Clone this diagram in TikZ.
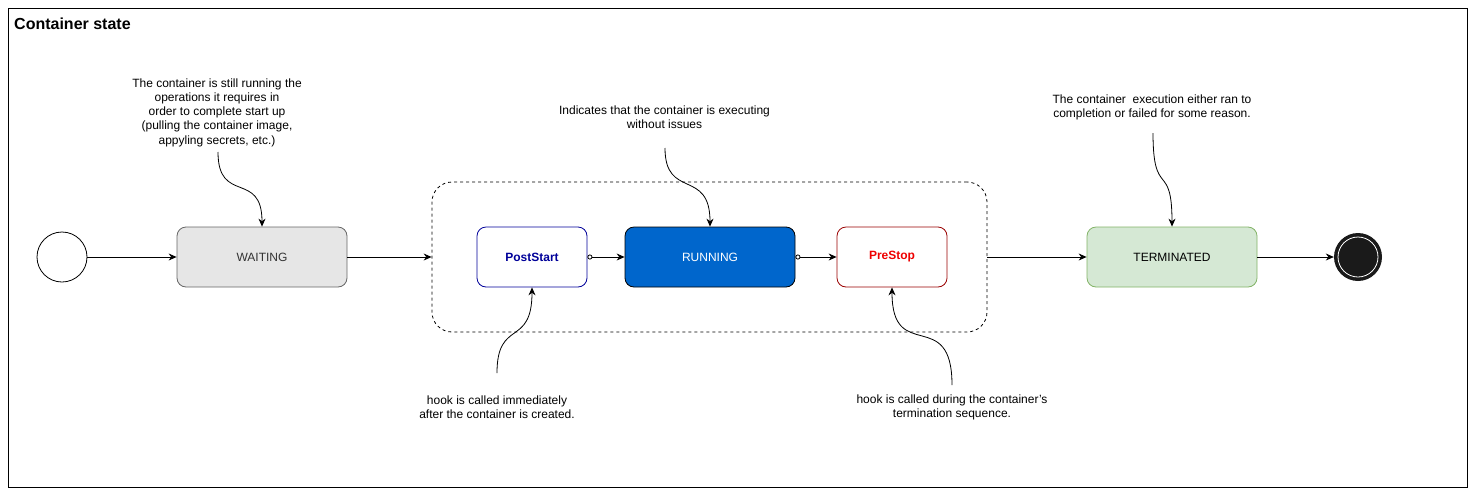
\documentclass[tikz,border=0pt]{standalone}
\usepackage{fontspec}
\setmainfont{Liberation Sans}
\usetikzlibrary{arrows.meta}

\definecolor{waitfill}{HTML}{E6E6E6}
\definecolor{waitline}{HTML}{666666}
\definecolor{waittext}{HTML}{333333}
\definecolor{hookblue}{HTML}{000099}
\definecolor{runfill}{HTML}{0066CC}
\definecolor{stopline}{HTML}{990000}
\definecolor{stoptext}{HTML}{EE0000}
\definecolor{termfill}{HTML}{D5E8D4}
\definecolor{termline}{HTML}{82B366}
\definecolor{endfill}{HTML}{1A1A1A}

\begin{document}
\begin{tikzpicture}[x=1pt, y=-1pt,
    every node/.style={font=\fontsize{12}{14.3}\selectfont},
    state/.style={draw, line width=0.8pt, rounded corners=9pt, minimum height=60pt, inner sep=0pt},
    note/.style={align=center, inner sep=0pt},
    flow/.style={line width=0.8pt, -{Stealth[length=8pt, width=7pt]}},
    hook/.style={flow, {Circle[open, length=5pt, width=5pt]}-{Stealth[length=8pt, width=7pt]}}
]
    \useasboundingbox (0,0) rectangle (1475,496);

    % Frame and title
    \draw[line width=0.8pt] (8,8) rectangle (1467,487);
    \node[anchor=base west, inner sep=0pt, font=\fontsize{16}{19}\selectfont\bfseries] (title) at (14,29) {Container state};

    % Start and end states
    \node[draw, circle, line width=0.8pt, minimum size=50pt, inner sep=0pt] (init) at (62,257) {};
    \node[circle, fill=endfill, minimum size=48pt, inner sep=0pt] (final) at (1358,257) {};
    \draw[white, line width=0.8pt] (final.center) circle[radius=20];

    % Running group
    \node[draw, dashed, line width=0.8pt, rounded corners=20pt, minimum width=555pt, minimum height=150pt, inner sep=0pt] (group) at (709.5,257) {};

    % States
    \node[state, fill=waitfill, draw=waitline, text=waittext, minimum width=170pt] (waiting) at (262,257) {WAITING};
    \node[state, draw=hookblue, text=hookblue, font=\fontsize{12}{14.3}\selectfont\bfseries, minimum width=110pt] (poststart) at (532,257) {PostStart};
    \node[state, fill=runfill, text=white, minimum width=170pt] (running) at (710,257) {RUNNING};
    \node[state, draw=stopline, text=stoptext, font=\fontsize{12}{14.3}\selectfont\bfseries, minimum width=110pt] (prestop) at (892,257) {PreStop};
    \node[state, fill=termfill, draw=termline, minimum width=170pt] (terminated) at (1172,257) {TERMINATED};

    % Transitions
    \draw[flow] (init) -- (waiting);
    \draw[flow] (waiting) -- (group);
    \draw[hook] (poststart) -- (running);
    \draw[hook] (running) -- (prestop);
    \draw[flow] (group) -- (terminated);
    \draw[flow] (terminated) -- (final);

    % Notes
    \node[note] (waitnote) at (217,112.5) {The container is still running the\\operations it requires in\\order to complete start up\\(pulling the container image,\\appyling secrets, etc.)};
    \node[note] (runnote) at (664.5,117.5) {Indicates that the container is executing\\without issues};
    \node[note] (termnote) at (1152,107.5) {The container\ \ execution either ran to\\completion or failed for some reason.};
    \node[note] (startnote) at (497,407.5) {hook is called immediately\\after the container is created.};
    \node[note] (stopnote) at (952,407.5) {hook is called during the container's\\termination sequence.};

    \coordinate (waittail) at (218,152);
    \coordinate (runtail) at (665,148);
    \coordinate (termtail) at (1153,133);
    \coordinate (starttail) at (497,373);
    \coordinate (stoptail) at (952,385);

    \draw[flow] (waittail) .. controls (218,205) and (262,170) .. (waiting.north);
    \draw[flow] (runtail) .. controls (665,200) and (710,168) .. (running.north);
    \draw[flow] (termtail) .. controls (1153,200) and (1172,160) .. (terminated.north);
    \draw[flow] (starttail) .. controls (497,318) and (532,348) .. (poststart.south);
    \draw[flow] (stoptail) .. controls (952,305) and (892,365) .. (prestop.south);
\end{tikzpicture}
\end{document}
